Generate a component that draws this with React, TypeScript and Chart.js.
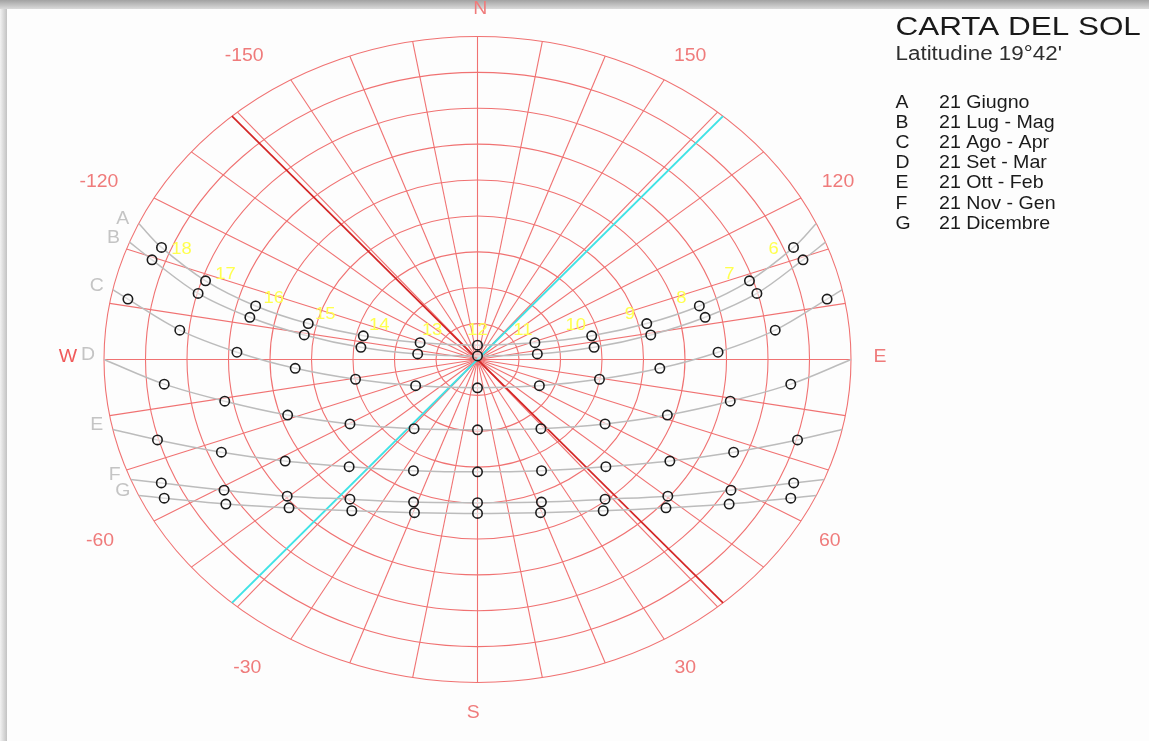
import React, { useEffect, useRef } from 'react';
import { Chart, registerables } from 'chart.js';

Chart.register(...registerables);

const W = 1149;
const H = 741;

// ---- data (azimuth from South, + toward East; altitude in degrees) ----
const hours = [6, 7, 8, 9, 10, 11, 12, 13, 14, 15, 16, 17, 18];
const curveLetters = ['A', 'B', 'C', 'D', 'E', 'F', 'G'];
const curveDates = ['21 Giugno', '21 Lug - Mag', '21 Ago - Apr', '21 Set - Mar', '21 Ott - Feb', '21 Nov - Gen', '21 Dicembre'];
const horizonAz = [114.9, 111.3, 102.5, 90, 77.5, 68.2, 65.1];

const azA = [112.3, 108.5, 105.6, 103.8, 103.5, 108.7, 180, -108.7, -103.5, -103.8, -105.6, -108.5, -112.3];
const altA = [7.7, 20.9, 34.5, 48.0, 61.7, 75.4, 86.0, 75.4, 61.7, 48.0, 34.5, 20.9, 7.7];
const azB = [109.5, 105.3, 102.1, 99.3, 96.9, 96.1, 180, -96.1, -96.9, -99.3, -102.1, -105.3, -109.5];
const altB = [6.8, 20.2, 33.9, 47.7, 61.7, 75.5, 89.0, 75.5, 61.7, 47.7, 33.9, 20.2, 6.8];
const azC = [101.3, 96.5, 92.0, 86.8, 79.4, 63.9, 0, -63.9, -79.4, -86.8, -92.0, -96.5, -101.3];
const altC = [4.1, 17.8, 32.0, 46.0, 60.1, 73.4, 82.1, 73.4, 60.1, 46.0, 32.0, 17.8, 4.1];
const azD = [null, 84.8, 79.2, 71.3, 59.7, 38.4, 0, -38.4, -59.7, -71.3, -79.2, -84.8, null];
const altD = [null, 14.2, 28.0, 41.7, 54.4, 65.4, 70.4, 65.4, 54.4, 41.7, 28.0, 14.2, null];
const azE = [null, 73.8, 67.3, 58.6, 46.0, 26.5, 0, -26.5, -46.0, -58.6, -67.3, -73.8, null];
const altE = [null, 9.7, 23.1, 35.7, 47.0, 55.4, 58.7, 55.4, 47.0, 35.7, 23.1, 9.7, null];
const azF = [null, 65.7, 59.2, 50.3, 38.3, 21.2, 0, -21.2, -38.3, -50.3, -59.2, -65.7, null];
const altF = [null, 6.4, 18.9, 30.4, 40.4, 47.4, 50.1, 47.4, 40.4, 30.4, 18.9, 6.4, null];
const azG = [null, 62.9, 56.4, 47.7, 35.7, 19.6, 0, -19.6, -35.7, -47.7, -56.4, -62.9, null];
const altG = [null, 5.2, 17.2, 28.6, 38.1, 44.7, 47.1, 44.7, 38.1, 28.6, 17.2, 5.2, null];

const curveAz = [azA, azB, azC, azD, azE, azF, azG];
const curveAlt = [altA, altB, altC, altD, altE, altF, altG];

const altitudeRings = [80, 70, 60, 50, 40, 30, 20, 10, 0];
const spokeAz = Array.from({ length: 36 }, (_, i) => i * 10);
const azTickLabels = ['-150', '-120', '-60', '-30', '30', '60', '120', '150', 'N', 'E', 'S', 'W'];
const redLineAz = [-138.9, 41.1];
const cyanLineAz = [-41.1, 138.9];

const TITLE = 'CARTA DEL SOL';
const SUBTITLE = 'Latitudine 19°42\'';

// ---- style: where each azimuth label sits (direction, distance in degrees from zenith) ----
const tickLabelPlacement: Record<string, [number, number]> = {
  '-150': [-146.4, 101.6],
  '-120': [-118.5, 103.8],
  '-60': [-60.9, 104.1],
  '-30': [-32.8, 102.4],
  '30': [30.2, 99.5],
  '60': [59.2, 98.8],
  '120': [119.7, 100],
  '150': [148.8, 98.9],
  N: [179.6, 97.7],
  S: [-0.6, 98.5],
  E: [90.4, 97],
  W: [-90.4, 98.7],
};

// ---- helpers ----
const rad = (d: number) => (d * Math.PI) / 180;
function proj(az: number, alt: number) {
  const z = 90 - alt;
  return { x: z * Math.sin(rad(az)), y: -z * Math.cos(rad(az)) };
}

const FONT = "'Liberation Sans', Arial, sans-serif";
const GRID = '#f07272';
const LABEL_RED = '#ef7b7b';

function stretchText(ctx: CanvasRenderingContext2D, t: string, x: number, y: number, font: string, color: string, align: CanvasTextAlign, baseline: CanvasTextBaseline, sx = 1.08) {
  ctx.save();
  ctx.font = font;
  ctx.fillStyle = color;
  ctx.textAlign = align;
  ctx.textBaseline = baseline;
  ctx.translate(x, y);
  ctx.scale(sx, 1);
  ctx.fillText(t, 0, 0);
  ctx.restore();
}

const hourOffsets = [[0, -15], [12, -12], [16, -10], [17, -9], [18, -8], [20, -6], [20, 2]];

const sunPlugin = {
  id: 'sunPlugin',
  beforeDraw(chart: any) {
    const ctx = chart.ctx as CanvasRenderingContext2D;
    ctx.save();
    ctx.fillStyle = '#fdfdfd';
    ctx.fillRect(0, 0, W, H);
    const gt = ctx.createLinearGradient(0, 0, 0, 9);
    gt.addColorStop(0, '#a2a2a2');
    gt.addColorStop(1, '#dadada');
    ctx.fillStyle = gt;
    ctx.fillRect(0, 0, W, 9);
    const gl = ctx.createLinearGradient(0, 0, 7, 0);
    gl.addColorStop(0, '#f2f2f2');
    gl.addColorStop(1, '#c2c2c2');
    ctx.fillStyle = gl;
    ctx.fillRect(0, 9, 7, H - 9);
    ctx.restore();
  },
  beforeDatasetsDraw(chart: any) {
    const ctx = chart.ctx as CanvasRenderingContext2D;
    const xs = chart.scales.x;
    const ys = chart.scales.y;
    const px = (v: number) => xs.getPixelForValue(v);
    const py = (v: number) => ys.getPixelForValue(v);
    const cx = px(0);
    const cy = py(0);
    ctx.save();
    ctx.strokeStyle = GRID;
    ctx.lineWidth = 1.1;
    altitudeRings.forEach((alt) => {
      const z = 90 - alt;
      ctx.beginPath();
      ctx.ellipse(cx, cy, px(z) - cx, cy - py(z), 0, 0, Math.PI * 2);
      ctx.stroke();
    });
    spokeAz.forEach((az) => {
      const p = proj(az, 0);
      ctx.beginPath();
      ctx.moveTo(cx, cy);
      ctx.lineTo(px(p.x), py(p.y));
      ctx.stroke();
    });
    const drawLine = (azs: number[], color: string, w: number) => {
      const a = proj(azs[0], 0);
      const b = proj(azs[1], 0);
      ctx.strokeStyle = color;
      ctx.lineWidth = w;
      ctx.beginPath();
      ctx.moveTo(px(a.x), py(a.y));
      ctx.lineTo(px(b.x), py(b.y));
      ctx.stroke();
    };
    drawLine(redLineAz, '#d42626', 1.7);
    drawLine(cyanLineAz, '#3fe3e6', 2);
    ctx.restore();
  },
  afterDatasetsDraw(chart: any) {
    const ctx = chart.ctx as CanvasRenderingContext2D;
    const xs = chart.scales.x;
    const ys = chart.scales.y;
    const px = (v: number) => xs.getPixelForValue(v);
    const py = (v: number) => ys.getPixelForValue(v);
    const metaA = chart.getDatasetMeta(0);
    hours.forEach((h, k) => {
      const el = metaA.data[k + 1];
      if (!el) return;
      const d = Math.abs(h - 12);
      const sgn = h > 12 ? 1 : h < 12 ? -1 : 0;
      const off = hourOffsets[d];
      stretchText(ctx, String(h), el.x + sgn * off[0], el.y + off[1], `17px ${FONT}`, '#ffff4d', 'center', 'middle');
    });
    curveLetters.forEach((L, i) => {
      const meta = chart.getDatasetMeta(i);
      const el = meta.data[meta.data.length - 1];
      stretchText(ctx, L, el.x - 16, el.y - 4, `18px ${FONT}`, '#c4c4c4', 'center', 'middle');
    });
    azTickLabels.forEach((lab) => {
      const [az, r] = tickLabelPlacement[lab];
      const p = proj(az, 90 - r);
      stretchText(ctx, lab, px(p.x), py(p.y), `18px ${FONT}`, lab === 'W' ? '#f05a5a' : LABEL_RED, 'center', 'middle');
    });
    stretchText(ctx, TITLE, 895.5, 35, `26px ${FONT}`, '#1a1a1a', 'left', 'alphabetic', 1.21);
    stretchText(ctx, SUBTITLE, 895.5, 59.5, `20px ${FONT}`, '#2e2e2e', 'left', 'alphabetic', 1.12);
    curveLetters.forEach((L, i) => {
      const y = 107.5 + 20.2 * i;
      stretchText(ctx, L, 895.5, y, `18.5px ${FONT}`, '#1a1a1a', 'left', 'alphabetic', 1.05);
      stretchText(ctx, curveDates[i], 939, y, `18.5px ${FONT}`, '#1a1a1a', 'left', 'alphabetic', 1.06);
    });
  },
};

export default function App() {
  const ref = useRef<HTMLCanvasElement | null>(null);
  useEffect(() => {
    if (!ref.current) return;
    const datasets = curveLetters.map((L, i) => {
      const pts: { x: number; y: number }[] = [];
      const radii: number[] = [];
      pts.push(proj(horizonAz[i], 0));
      radii.push(0);
      hours.forEach((h, k) => {
        const az = curveAz[i][k];
        const alt = curveAlt[i][k];
        if (az === null || alt === null) return;
        pts.push(proj(az as number, alt as number));
        radii.push(4.7);
      });
      pts.push(proj(-horizonAz[i], 0));
      radii.push(0);
      return {
        label: L,
        data: pts,
        showLine: true,
        tension: 0.35,
        borderColor: '#bcbcbc',
        borderWidth: 1.5,
        pointRadius: radii,
        pointBorderColor: '#1c1c1c',
        pointBorderWidth: 1.6,
        pointBackgroundColor: 'rgba(255,255,255,0.5)',
        clip: false as any,
      };
    });
    const chart = new Chart(ref.current, {
      type: 'scatter',
      data: { datasets },
      options: {
        responsive: false,
        maintainAspectRatio: false,
        animation: false,
        layout: { padding: { left: 104, right: W - 851, top: 36.5, bottom: H - 682.5 } },
        plugins: { legend: { display: false }, tooltip: { enabled: false } },
        scales: {
          x: { type: 'linear', min: -90, max: 90, display: false },
          y: { type: 'linear', min: -90, max: 90, display: false },
        },
      },
      plugins: [sunPlugin],
    });
    return () => chart.destroy();
  }, []);
  return (
    <div style={{ position: 'fixed', left: 0, top: 0, width: W, height: H, background: '#fdfdfd' }}>
      <canvas ref={ref} width={W} height={H} style={{ display: 'block', width: W, height: H }} />
    </div>
  );
}
